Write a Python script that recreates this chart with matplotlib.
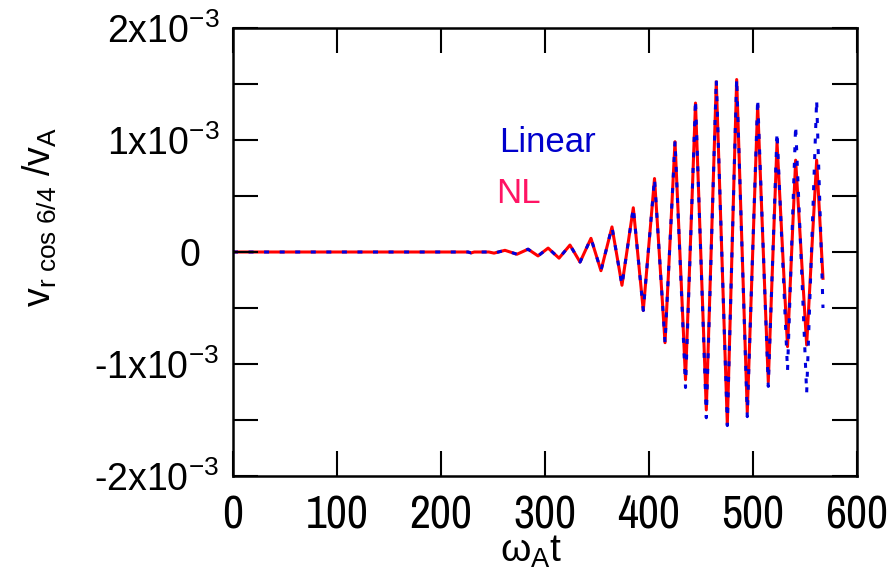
import numpy as np
import matplotlib
matplotlib.use("Agg")
import matplotlib.pyplot as plt
import matplotlib.transforms as mtransforms
from matplotlib import font_manager
from matplotlib.font_manager import FontProperties
from matplotlib.ticker import FixedLocator, FixedFormatter, MultipleLocator

# extrema of the mode amplitude (time in omega_A t, value in units of 1e-3)
t_ext = [0, 226, 229, 232, 246, 251, 261.5, 273, 283.7, 293.3, 303, 313.5,
         324, 333.7, 344.2, 353.8, 364.4, 374, 384.9, 394.5, 405.3, 415.4,
         425, 435.1, 444.7, 455.1, 464.7, 475.3, 484.3, 494.5, 504.5, 514.7,
         523.1, 533.2, 541, 551.6, 561.2, 567.3]

v_nl = [0, 0, -0.008, 0, 0, -0.01, 0.015, -0.02, 0.025, -0.035, 0.035, -0.055,
        0.062, -0.09, 0.122, -0.167, 0.224, -0.297, 0.395, -0.522, 0.656, -0.81,
        0.985, -1.14, 1.33, -1.41, 1.52, -1.54, 1.54, -1.43, 1.31, -1.16,
        0.98, -0.845, 0.82, -0.83, 0.82, -0.235]

v_lin = [0, 0, -0.008, 0, 0, -0.01, 0.015, -0.02, 0.025, -0.035, 0.035, -0.055,
         0.062, -0.09, 0.122, -0.167, 0.224, -0.297, 0.395, -0.522, 0.656, -0.81,
         0.99, -1.21, 1.36, -1.48, 1.54, -1.55, 1.55, -1.47, 1.37, -1.20,
         1.07, -1.06, 1.13, -1.26, 1.36, -0.50]

x_ticks = [0, 100, 200, 300, 400, 500, 600]
y_ticks = [-2e-3, -1e-3, 0, 1e-3, 2e-3]
y_labels = [r"-2x10$^{-3}$", r"-1x10$^{-3}$", "0",
            r"1x10$^{-3}$", r"2x10$^{-3}$"]

# pick a narrow face for the time axis if one is around
fonts = font_manager.fontManager.ttflist
cond = [f for f in fonts if "Narrow" in f.name or "Condensed" in f.name]
if cond:
    xfont = FontProperties(family=cond[0].name, size=33)
elif any(f.name == "DejaVu Sans" and str(f.stretch) in ("condensed", "semi-condensed")
         for f in fonts):
    xfont = FontProperties(family="DejaVu Sans", stretch="condensed", size=29)
else:
    xfont = FontProperties(family="Liberation Sans", size=28)

plt.rcParams["font.family"] = "Liberation Sans"
plt.rcParams["mathtext.fontset"] = "custom"
plt.rcParams["mathtext.rm"] = "Liberation Sans"
plt.rcParams["mathtext.it"] = "Liberation Sans:italic"
plt.rcParams["lines.scale_dashes"] = False

fig = plt.figure(figsize=(8.92, 5.88), dpi=100)
ax = fig.add_axes([233/892, 1 - 476/588, 624/892, 448/588])

t = np.array(t_ext)
ax.plot(t, np.array(v_nl) * 1e-3, color="#ff0000", lw=2.2)
ax.plot(t, np.array(v_lin) * 1e-3, color="#0000dd", lw=2.2, dashes=(3.6, 7.6))

ax.set_xlim(0, 600)
ax.set_ylim(-2e-3, 2e-3)
ax.set_axisbelow(False)

ax.xaxis.set_major_locator(FixedLocator(x_ticks))
ax.yaxis.set_major_locator(FixedLocator(y_ticks))
ax.yaxis.set_major_formatter(FixedFormatter(y_labels))
ax.yaxis.set_minor_locator(MultipleLocator(0.5e-3))

ax.tick_params(which="both", direction="in", length=18, width=1.5,
               top=True, right=True)
ax.tick_params(axis="y", labelsize=27, pad=10)
ax.tick_params(axis="x", pad=13)
for lab in ax.get_xticklabels():
    lab.set_fontproperties(xfont)
for s in ax.spines.values():
    s.set_linewidth(1.8)

# the zero label sits under the mantissa column
zero = ax.yaxis.get_major_ticks()[2].label1
zero.set_transform(zero.get_transform() +
                   mtransforms.ScaledTranslation(-0.19, 0, fig.dpi_scale_trans))

ax.text(0.426, 0.723, "Linear", transform=ax.transAxes, fontsize=25,
        color="#0000cc", va="baseline", ha="left")
ax.text(0.4215, 0.609, "NL", transform=ax.transAxes, fontsize=25,
        color="#ff1464", va="baseline", ha="left")

fig.text(40/892, 1 - 217/588, r"$\mathregular{v_{r\ cos\ 6/4}\ /v_A}$",
         rotation=90, fontsize=27, ha="center", va="center")
fig.text(531/892, 1 - 562/588, r"$\mathregular{\omega_A t}$",
         fontsize=28, ha="center", va="baseline")

fig.savefig("out.png", dpi=100)
